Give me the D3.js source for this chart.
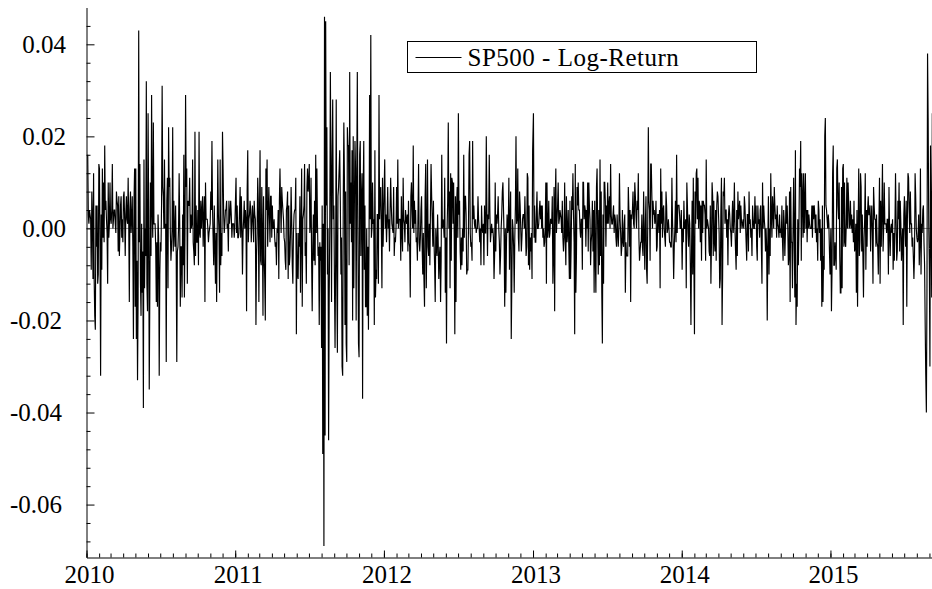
<!DOCTYPE html>
<html>
<head>
<meta charset="utf-8">
<script src="https://cdn.jsdelivr.net/npm/d3@7"></script>
<style>
  body { margin: 0; background: #fff; }
  svg { display: block; }
</style>
</head>
<body>
<svg id="chart" width="932" height="589"></svg>
<script>
// daily log-returns of the S&P 500, in percent, one array per calendar year
const ret2010 = [
  1.6,0.3,0.1,0.4,0.3,0.2,-0.9,0.8,0.2,-1.1,1.2,-1.1,-1.9,-2.2,0.5,-0.4,0.5,-1.2,-1.0,
  1.4,1.3,-0.5,-3.2,0.3,-0.9,1.3,-0.2,1.0,-0.3,1.8,0.4,0.6,0.2,-0.1,-1.2,1.0,-0.2,0.1,
  1.0,0.2,0.1,0.4,1.4,0.0,0.2,0.4,0.4,0.1,-0.1,0.8,0.6,0.5,-0.5,0.7,-0.6,-0.1,0.5,0.7,-0.2,0.2,-0.3,
  0.7,0.8,0.2,-0.6,0.3,0.7,0.2,0.1,1.1,0.1,-1.6,0.4,0.8,-0.1,0.2,0.7,-0.4,-2.4,0.6,1.3,-1.7,
  1.3,-2.4,-0.7,-3.3,-1.5,4.3,-0.3,1.4,-1.2,-1.9,0.1,-1.4,-0.5,-3.9,1.5,-1.3,0.0,-0.6,3.2,-1.2,
  -1.8,2.5,0.4,-3.5,-1.4,1.0,-0.6,2.9,0.4,-0.2,2.3,0.1,0.1,0.1,-0.4,-1.6,-0.3,-1.7,0.3,-0.2,-3.2,-1.0,
  -0.3,-0.5,0.5,3.1,0.9,0.7,0.0,1.5,0.0,0.1,-2.9,0.6,1.1,-1.3,2.2,0.9,1.1,-0.1,-0.7,-0.4,0.0,
  2.2,-0.5,0.6,-0.1,-0.4,0.5,-0.6,-2.9,-0.5,-0.4,0.0,1.2,0.1,-1.7,-0.4,-0.4,-1.5,0.3,-0.8,1.6,-1.5,-0.1,
  2.9,0.9,1.3,-1.2,0.6,0.5,0.5,1.1,-0.1,0.3,0.0,0.1,1.5,-0.3,-0.5,-0.8,2.1,-0.6,0.5,-0.3,-0.3,
  0.4,-0.8,2.1,-0.1,-0.2,0.6,0.0,0.4,0.7,-0.4,0.2,0.7,-1.6,1.0,0.2,0.2,0.2,0.0,-0.3,-0.1,0.0,
  0.1,0.8,0.4,1.9,0.4,-0.2,-0.8,0.5,-0.4,-1.2,-0.1,-1.6,0.0,1.5,0.3,-0.1,-1.4,1.5,-0.8,-0.1,-0.6,
  2.1,1.3,0.3,-0.1,0.1,0.4,0.4,0.6,0.0,0.1,-0.5,0.6,0.1,0.3,0.6,0.3,-0.2,0.1,0.1,0.1,-0.2,0.0
];
const ret2011 = [
  1.1,-0.1,0.5,-0.2,-0.2,-0.1,0.4,0.9,-0.2,0.7,0.1,-1.0,-0.1,0.2,0.6,0.0,0.4,0.2,-1.8,0.8,
  1.7,-0.3,0.2,0.3,0.6,0.4,-0.3,0.1,0.5,0.2,-0.3,0.6,0.3,0.2,-2.1,-0.6,-0.1,1.1,0.6,
  -1.6,0.2,1.7,-0.7,-0.8,0.9,-0.1,-1.9,0.7,-0.6,-1.1,-2.0,1.3,0.4,1.5,-0.4,0.3,0.9,0.3,-0.3,0.7,0.7,-0.2,
  0.5,0.0,0.0,0.2,-0.2,-0.4,-0.3,-0.8,0.0,-0.1,0.4,-1.1,0.6,1.3,0.5,-0.1,0.9,0.6,0.4,0.2,
  -0.2,-0.3,-0.7,-0.9,0.4,0.5,0.8,-1.1,0.5,-0.8,-0.6,-0.1,0.9,0.2,-0.8,-1.2,-0.1,0.3,0.4,0.4,1.1,
  -2.3,-0.1,-1.0,-1.1,-0.1,-0.4,0.7,-1.4,0.0,1.3,-1.7,0.2,0.3,0.5,1.4,-0.6,-0.3,-1.2,0.9,1.3,0.8,1.0,
  1.4,-0.1,0.1,1.1,-0.7,-1.8,-0.4,0.3,-0.7,0.6,-0.8,1.6,-0.1,1.3,0.1,-0.6,-0.4,-2.1,-0.3,-0.7,
  -0.4,-2.6,0.5,-4.9,0.1,-6.9,4.6,-4.5,4.5,0.5,2.2,-1.0,0.0,-4.6,-1.5,0.0,3.4,1.3,-1.6,1.5,2.8,0.2,0.5,
  -1.2,-2.6,-0.7,2.8,-1.1,-2.7,0.7,0.9,1.3,1.7,0.6,-1.0,-0.2,-3.0,-3.2,0.6,2.3,1.1,-2.1,0.8,-2.5,
  -2.9,2.2,1.8,1.8,-0.8,3.4,0.1,1.0,-0.3,1.7,-2.0,2.0,-1.3,0.5,1.9,1.3,-2.0,1.0,3.4,0.0,-2.5,
  -2.8,1.6,1.9,-0.6,0.6,1.2,-3.7,0.8,1.9,-0.9,0.5,-1.7,-1.7,0.0,-1.9,-0.4,-2.2,-0.3,2.9,0.2,4.2,
  -0.2,0.0,1.0,0.1,0.2,-2.1,1.7,-1.5,-0.9,-1.1,0.3,0.3,-1.2,2.9,0.2,0.8,0.9,0.0,-1.3,1.1,-0.4
];
const ret2012 = [
  1.5,0.0,0.3,-0.3,0.2,0.9,0.0,0.2,-0.5,0.4,1.1,0.5,0.1,0.0,-0.1,0.9,-0.6,-0.2,-0.3,0.0,
  0.9,0.1,1.5,0.0,0.2,0.2,0.2,-0.7,0.7,-0.1,-0.5,1.1,0.2,0.1,-0.3,0.4,0.2,0.1,0.3,-0.5,
  0.6,-0.3,-0.4,-1.5,0.7,1.0,0.4,0.0,1.8,-0.1,0.6,0.1,0.4,-0.3,-0.2,-0.7,0.3,1.4,-0.3,-0.5,-0.2,0.4,
  0.7,-0.4,-1.0,-0.1,-1.1,-1.7,0.7,1.4,-1.3,-0.1,1.5,-0.4,-0.6,0.1,-0.8,0.4,1.4,0.7,0.2,-0.4,
  0.6,-0.3,-0.8,-1.6,0.0,-0.4,-0.6,0.3,-0.3,-1.1,-0.6,-0.4,-1.6,-0.7,1.6,0.0,0.2,0.1,-0.2,1.1,-1.4,-0.2,
  -2.5,0.0,0.6,2.3,0.0,0.8,-1.3,1.2,-0.7,1.1,1.0,0.1,1.0,-0.2,-2.3,0.7,-1.6,0.5,0.9,-0.2,2.5,
  0.3,0.6,-0.5,-0.9,-0.2,-0.8,0.0,-0.5,1.6,-0.2,0.7,0.7,0.3,-1.0,-0.9,-0.9,0.0,1.6,1.9,-0.1,-0.4,
  -0.3,-0.7,1.9,0.2,0.5,0.1,0.0,0.2,-0.1,0.0,0.0,0.7,0.2,0.0,-0.3,0.0,-0.8,0.5,0.0,-0.1,0.1,-0.8,0.5,
  -0.1,-0.1,2.0,0.4,-0.6,0.3,0.2,1.6,0.4,-0.3,-0.1,0.1,-0.1,0.0,-0.2,-1.1,-0.6,1.0,-0.5,
  0.3,0.1,0.3,0.7,0.0,-0.3,-1.0,-0.6,0.0,0.3,0.8,1.0,0.4,-0.2,-1.7,0.0,-1.4,-0.3,0.3,-0.1,0.0,
  1.1,-0.9,0.2,0.8,-2.4,-1.2,0.2,0.0,-0.4,-1.4,-0.2,0.5,2.0,0.1,0.2,1.3,-0.2,-0.5,0.8,0.5,0.0,
  -0.5,-0.2,0.2,0.3,0.3,0.0,0.7,0.0,-0.6,-0.4,1.2,1.1,-0.8,0.5,-0.9,-0.2,-0.5,-0.1,-1.1,1.7
];
const ret2013 = [
  2.5,-0.2,0.5,-0.3,-0.3,0.3,0.8,0.0,0.0,0.1,0.4,0.6,0.2,0.5,0.0,0.5,-0.2,0.0,-0.4,-0.3,0.0,
  1.0,-1.2,1.0,-0.2,0.0,0.6,-0.2,-0.1,0.2,0.2,0.1,0.7,-1.2,-0.6,0.9,-1.8,0.6,1.3,-0.1,
  0.2,0.5,1.0,0.1,0.2,0.4,0.3,0.2,-0.1,0.6,-0.2,-0.5,-0.2,1.0,-0.2,-0.8,0.7,-0.3,-0.1,0.4,
  -0.4,-1.1,0.6,-1.1,-0.4,0.7,0.4,1.2,0.3,-0.3,-2.3,1.4,-1.4,-0.6,0.9,0.5,1.0,0.4,0.4,0.0,-0.2,0.2,
  0.2,-0.9,1.0,1.0,0.2,0.5,0.4,-0.4,0.4,0.0,1.0,-0.5,1.0,0.5,0.2,-0.8,-0.3,-0.1,0.6,-0.5,0.4,-1.4,
  0.6,-0.6,-1.4,0.9,1.3,0.0,-1.0,0.4,-0.8,1.5,-0.6,0.8,-1.4,-2.5,0.3,-1.2,1.0,1.0,0.6,-0.4,
  0.5,0.1,1.0,0.1,0.5,0.7,0.0,1.4,0.3,0.1,0.1,0.3,0.5,-0.1,0.3,0.2,-0.2,-0.4,0.3,-0.1,-0.4,0.0,
  1.2,0.2,-0.1,-0.6,-0.4,0.4,-0.3,-0.4,0.1,0.3,-1.4,-0.3,-0.6,-0.6,-0.6,0.9,0.4,-0.4,0.4,-1.6,0.3,0.2,
  0.4,0.8,0.1,0.0,1.0,0.7,0.3,0.0,0.6,0.4,1.2,-0.2,-0.7,-0.5,-0.3,-0.3,0.3,-0.4,-0.6,0.8,
  -0.1,-0.9,0.1,0.7,-0.9,-1.2,0.1,2.2,0.6,0.4,-0.7,1.4,1.4,0.7,0.0,0.6,0.3,0.4,0.1,0.2,0.6,-0.5,-0.4,
  0.3,0.3,-0.1,0.4,-1.3,1.3,0.1,0.8,-0.2,0.4,0.5,0.0,-0.2,-0.4,0.8,0.5,-0.1,0.0,0.2,0.0,
  -0.3,-0.3,-0.4,-0.4,1.1,0.2,-0.3,-1.1,-0.4,0.0,0.6,-0.3,1.6,-0.1,0.5,0.5,0.5,0.3,0.0,0.0,0.4
];
const ret2014 = [
  -0.9,0.0,-0.3,0.6,0.0,0.0,0.2,-1.3,1.0,0.5,-0.1,-0.4,0.3,0.1,-0.9,-2.1,-0.5,0.6,-1.0,1.1,-0.7,
  -2.3,0.8,0.1,1.2,1.3,0.2,1.1,0.0,0.6,0.5,-0.3,0.5,-0.7,0.6,-0.1,0.6,0.5,0.5,0.3,
  -0.7,1.5,0.0,0.2,0.1,0.0,-0.5,-0.6,0.5,-1.2,-0.3,1.0,0.7,-0.6,0.6,-0.3,-0.5,0.4,-0.7,0.5,0.8,
  0.7,0.3,-0.1,-1.3,-1.1,0.4,1.1,-2.1,-1.0,0.8,0.7,1.1,0.1,0.4,0.4,-0.2,0.2,-0.8,0.3,0.5,0.3,
  0.0,-0.1,-0.4,0.2,0.6,-0.1,0.2,1.0,0.0,-0.5,-0.9,0.4,-0.6,0.8,0.2,0.4,0.6,-0.1,0.5,0.2,0.0,
  0.1,0.2,0.0,0.7,0.5,0.1,-0.3,-0.7,0.3,0.3,-0.5,0.8,0.1,0.2,-0.2,0.0,-0.6,0.5,0.2,0.0,0.0,
  0.7,0.1,0.5,-0.4,-0.7,0.5,0.1,0.2,-0.2,0.4,0.5,-0.4,-1.2,1.0,0.0,0.5,0.2,0.0,-0.5,0.0,-0.4,-2.0,
  -0.3,0.7,-1.0,0.0,-0.6,1.2,0.3,-0.2,0.7,0.4,0.0,0.9,0.5,0.2,0.3,-0.2,0.5,0.1,0.0,-0.2,0.3,
  -0.1,0.0,-0.2,0.5,-0.3,-0.7,0.4,0.1,-0.6,-0.1,0.7,0.1,0.5,0.0,-0.8,-0.6,0.8,-1.6,0.9,-0.3,-0.3,
  -1.3,0.0,1.1,-0.2,-1.5,1.7,-2.1,-1.2,-1.7,0.2,-0.8,0.0,1.3,0.9,1.9,-0.7,1.2,0.7,-0.2,1.2,-0.1,0.6,1.2,
  0.0,0.4,-0.3,0.4,0.0,0.3,0.1,0.0,0.0,0.0,0.5,-0.2,0.5,0.2,0.5,0.3,-0.1,0.3,-0.3,0.0,
  -0.7,0.6,0.4,-0.1,0.2,-0.7,0.0,-1.7,0.5,-1.6,-0.6,-0.9,2.0,2.4,0.5,0.4,0.2,0.0,0.3,0.1,-0.5,-1.0
];
const ret2015 = [
  0.0,-1.8,-0.9,1.2,1.8,-0.8,-0.8,-0.3,-0.6,-0.9,1.3,1.5,0.5,0.2,1.0,-0.6,-1.4,-1.4,0.9,-1.3,
  1.3,1.4,-0.4,1.0,-0.3,-0.4,0.1,1.1,0.0,1.0,0.6,0.0,0.1,0.6,0.0,0.3,-0.1,0.2,-0.3,
  0.6,-0.5,-0.4,0.1,-1.4,0.4,-1.7,0.0,1.3,-0.6,-0.3,1.2,0.9,-0.5,0.3,-0.6,-1.5,-0.2,0.2,1.2,-0.9,0.4,
  -0.4,0.4,0.7,0.3,0.3,0.5,-0.5,0.2,0.5,-0.1,-1.2,0.9,0.5,0.2,0.2,-0.4,0.3,-0.3,-0.4,-1.0,0.1,
  1.1,-1.2,0.6,-0.4,0.4,1.4,-0.5,0.0,1.0,0.1,0.1,0.1,-0.1,0.2,0.2,-1.0,0.9,-0.1,-0.6,0.0,
  0.1,-0.1,0.2,-0.9,-0.1,-0.7,0.0,1.2,0.2,-0.7,-0.5,0.6,0.2,1.0,-0.5,0.6,0.1,-0.7,-0.3,0.0,-2.1,0.3,
  0.7,0.0,-0.4,0.6,-1.7,0.2,1.2,1.1,0.4,-0.1,0.8,0.1,0.1,-0.4,-0.2,-0.6,-1.1,-0.6,1.2,0.7,0.0,-0.2,
  -0.3,-0.2,0.3,-0.8,-0.3,1.3,-1.0,0.1,-0.1,0.4,0.5,-0.3,-0.8,-2.1,-3.2,-4.0,-1.4,3.8,2.4,0.1,-0.8,
  -3.0,1.8,0.1,-1.5,2.5
];

// first and last trading day covered by each yearly array
const yearSpans = [
  ['2010-01-04', '2010-12-31', ret2010],
  ['2011-01-03', '2011-12-30', ret2011],
  ['2012-01-03', '2012-12-31', ret2012],
  ['2013-01-02', '2013-12-31', ret2013],
  ['2014-01-02', '2014-12-31', ret2014],
  ['2015-01-02', '2015-09-08', ret2015]
];

const majorY = [-0.06, -0.04, -0.02, 0, 0.02, 0.04];
const minorY = d3.range(-17, 12).filter(i => i % 5 !== 0).map(i => +(i * 0.004).toFixed(3));
const legendLabel = 'SP500 - Log-Return';

const font_family = '"Liberation Serif"';
const font_size = 25;
const parseDay = d3.utcParse('%Y-%m-%d');

const series = [];
yearSpans.forEach(([start, end, values]) => {
  const t0 = parseDay(start).getTime(), t1 = parseDay(end).getTime();
  const step = (t1 - t0) / (values.length - 1);
  values.forEach((v, i) => series.push({date: new Date(t0 + i * step), value: v / 100}));
});

const svg = d3.select('#chart')
  .attr('font-family', font_family)
  .style('font-family', font_family);

const x = d3.scaleUtc()
  .domain([Date.UTC(2010, 0, 1), Date.UTC(2015, 8, 8)])
  .range([86.5, 932.3]);

const y = d3.scaleLinear()
  .domain([-0.0715, 0.048])
  .range([557.5, 7.5]);

// zero reference line
svg.append('line')
  .attr('x1', x.range()[0]).attr('x2', x.range()[1])
  .attr('y1', y(0)).attr('y2', y(0))
  .attr('stroke', '#8a8a8a')
  .attr('stroke-width', 1);

// the return series
const line = d3.line()
  .x(d => x(d.date))
  .y(d => y(d.value));

svg.append('path')
  .datum(series)
  .attr('fill', 'none')
  .attr('stroke', '#000')
  .attr('stroke-width', 1.15)
  .attr('d', line);

// y axis, ticks point into the plot
svg.append('g')
  .attr('transform', 'translate(86.5,0)')
  .call(d3.axisLeft(y).tickValues(minorY).tickSizeInner(-4).tickSizeOuter(0).tickFormat(''))
  .call(g => g.select('.domain').remove());

const yAxis = svg.append('g')
  .attr('transform', 'translate(86.5,0)')
  .call(d3.axisLeft(y)
    .tickValues(majorY)
    .tickSizeInner(-8)
    .tickSizeOuter(0)
    .tickPadding(20.5)
    .tickFormat(d => d.toFixed(2)))
  .attr('font-family', font_family)
  .attr('font-size', font_size);

yAxis.selectAll('text')
  .attr('dx', d => d < 0 ? -4 : 0)
  .attr('font-family', font_family)
  .style('font-family', font_family)
  .style('font-size', font_size + 'px')
  .attr('fill', '#000');

// x axis, monthly minor ticks and yearly major ticks
svg.append('g')
  .attr('transform', `translate(0,${y.range()[0]})`)
  .call(d3.axisBottom(x).ticks(d3.utcMonth.every(1)).tickSizeInner(-4).tickSizeOuter(0).tickFormat(''))
  .call(g => g.select('.domain').remove());

const xAxis = svg.append('g')
  .attr('transform', `translate(0,${y.range()[0]})`)
  .call(d3.axisBottom(x)
    .ticks(d3.utcYear.every(1))
    .tickSizeInner(-7)
    .tickSizeOuter(0)
    .tickPadding(8)
    .tickFormat(d3.utcFormat('%Y')))
  .attr('font-family', font_family)
  .attr('font-size', font_size);

xAxis.selectAll('text')
  .attr('dx', 2.5)
  .attr('font-family', font_family)
  .style('font-family', font_family)
  .style('font-size', font_size + 'px')
  .attr('fill', '#000');

svg.selectAll('.domain, .tick line').attr('stroke', '#000');

// legend
const legend = svg.append('g').attr('transform', 'translate(407.5,41.5)');

legend.append('rect')
  .attr('width', 349)
  .attr('height', 31)
  .attr('fill', '#fff')
  .attr('stroke', '#000')
  .attr('stroke-width', 1);

legend.append('line')
  .attr('x1', 8).attr('x2', 54)
  .attr('y1', 16).attr('y2', 16)
  .attr('stroke', '#000')
  .attr('stroke-width', 1);

legend.append('text')
  .attr('x', 60)
  .attr('y', 24.5)
  .attr('font-family', font_family)
  .style('font-family', font_family)
  .style('font-size', font_size + 'px')
  .style('letter-spacing', '0.5px')
  .attr('fill', '#000')
  .text(legendLabel);
</script>
</body>
</html>
